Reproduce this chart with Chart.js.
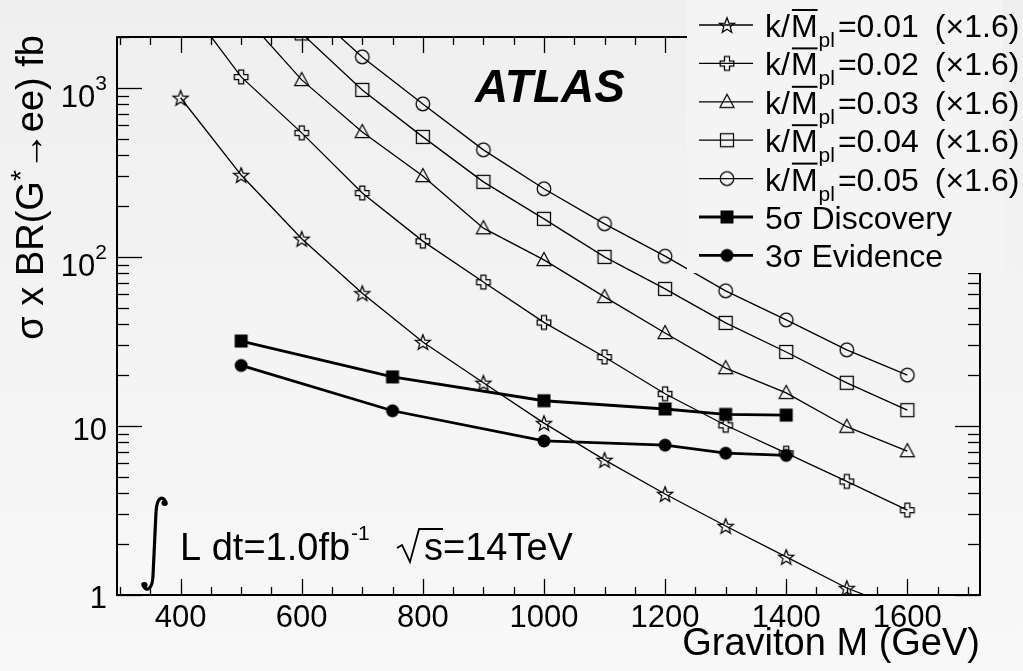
<!DOCTYPE html>
<html><head><meta charset="utf-8">
<script src="https://cdn.jsdelivr.net/npm/chart.js@4.4.1/dist/chart.umd.min.js"></script>
<style>
html,body{margin:0;padding:0;}
body{width:1023px;height:671px;background:linear-gradient(#efefef,#f8f8f8);overflow:hidden;}
#wrap{position:relative;width:1023px;height:671px;}
</style></head><body><div id="wrap"><canvas id="c" width="1023" height="671"></canvas></div>
<script>
// ---- data ----
const masses = [400, 500, 600, 700, 800, 900, 1000, 1100, 1200, 1300, 1400, 1500, 1600];
const k001 = [874, 305, 128, 61, 31.4, 18, 10.4, 6.3, 3.96, 2.56, 1.68, 1.1, 0.8];
const k002 = [3500, 1161, 542, 239, 124, 71, 41, 25.6, 15.5, 10.1, 6.9, 4.7, 3.18];
const k003 = [null, 2800, 1115, 549, 301, 148, 96, 58, 35.5, 22, 15.7, 9.9, 7.1];
const k004 = [null, null, 2100, 973, 513, 278, 168, 100, 64.7, 40.7, 27.4, 18, 12.4];
const k005 = [null, null, 3200, 1525, 804, 430, 253, 157, 101, 63, 42.4, 28.2, 20];
const sigMass = [500, 750, 1000, 1200, 1300, 1400];
const disc5 = [31.8, 19.5, 14.1, 12.6, 11.7, 11.6];
const evid3 = [22.8, 12.3, 8.15, 7.7, 6.9, 6.7];
const couplings = ['0.01', '0.02', '0.03', '0.04', '0.05'];
const scaleNote = '(\u00d71.6)';
const sigLabels = ['5\u03c3 Discovery', '3\u03c3 Evidence'];
const xTickLabels = [400, 600, 800, 1000, 1200, 1400, 1600];
const yTickExp = [0, 1, 2, 3];

const F = '"Liberation Sans", Arial, Helvetica, sans-serif';

// ---- marker canvases ----
function mk(draw) {
  const c = document.createElement('canvas'); c.width = 22; c.height = 22;
  const g = c.getContext('2d'); g.translate(11, 11); g.strokeStyle = '#000'; g.fillStyle = '#000'; g.lineWidth = 1.25;
  draw(g); return c;
}
const M = {
  star: mk(g => { g.beginPath(); for (let i = 0; i < 10; i++) { const r = i % 2 ? 3.4 : 8; const a = -Math.PI / 2 + i * Math.PI / 5; const px = r * Math.cos(a), py = r * Math.sin(a) + 0.8; i ? g.lineTo(px, py) : g.moveTo(px, py); } g.closePath(); g.stroke(); }),
  cross: mk(g => { const a = 2.5, b = 6.8; const p = [[-a,-b],[a,-b],[a,-a],[b,-a],[b,a],[a,a],[a,b],[-a,b],[-a,a],[-b,a],[-b,-a],[-a,-a]]; g.beginPath(); p.forEach((q, i) => i ? g.lineTo(q[0], q[1]) : g.moveTo(q[0], q[1])); g.closePath(); g.stroke(); }),
  tri: mk(g => { g.beginPath(); g.moveTo(0, -7.5); g.lineTo(7, 5.5); g.lineTo(-7, 5.5); g.closePath(); g.stroke(); }),
  sq: mk(g => { g.strokeRect(-6.5, -6.5, 13, 13); }),
  circ: mk(g => { g.beginPath(); g.arc(0, 0, 6.8, 0, Math.PI * 2); g.stroke(); }),
  fsq: mk(g => { g.fillRect(-6.5, -6.5, 13, 13); }),
  fcirc: mk(g => { g.beginPath(); g.arc(0, 0, 6.5, 0, Math.PI * 2); g.fill(); })
};

function pts(xs, ys) { return xs.map((v, i) => ({ x: v, y: ys[i] })).filter(p => p.y != null); }
function ds(label, xs, ys, marker, lw) {
  return { label, data: pts(xs, ys), borderColor: '#000', backgroundColor: '#000', borderWidth: lw,
    pointStyle: marker, pointRadius: 7, pointHoverRadius: 7, tension: 0, fill: false, clip: 1 };
}
const markerList = [M.star, M.cross, M.tri, M.sq, M.circ];
const series = [k001, k002, k003, k004, k005];
const datasets = series.map((s, i) => ds('k/Mpl=' + couplings[i] + ' ' + scaleNote, masses, s, markerList[i], 1.3));
datasets.push(ds(sigLabels[0], sigMass, disc5, M.fsq, 2.8));
datasets.push(ds(sigLabels[1], sigMass, evid3, M.fcirc, 2.8));

function line(ctx, x1, y1, x2, y2) { ctx.beginPath(); ctx.moveTo(x1, y1); ctx.lineTo(x2, y2); ctx.stroke(); }

const deco = {
  id: 'deco',
  afterDatasetsDraw(chart) {
    const { ctx, chartArea: a, scales: { x, y } } = chart;
    ctx.save();
    ctx.strokeStyle = '#000'; ctx.fillStyle = '#000';
    // ticks
    ctx.lineWidth = 1.3;
    for (let v = 300; v <= 1700; v += 50) {
      const px = Math.round(x.getPixelForValue(v)) + 0.5;
      const L = (v % 200 === 0) ? 16 : 8;
      line(ctx, px, a.bottom, px, a.bottom - L); line(ctx, px, a.top, px, a.top + L);
    }
    for (let d = 0; d < 4; d++) for (let m = 1; m <= 9; m++) {
      const v = m * Math.pow(10, d); if (v > 2000) break;
      const py = Math.round(y.getPixelForValue(v)) + 0.5; const L = m === 1 ? 25 : 12;
      line(ctx, a.left, py, a.left + L, py); line(ctx, a.right, py, a.right - L, py);
    }
    // frame
    ctx.lineWidth = 2;
    ctx.strokeRect(a.left, a.top, a.right - a.left, a.bottom - a.top);
    // x tick labels
    ctx.font = '31px ' + F; ctx.textAlign = 'center'; ctx.textBaseline = 'alphabetic';
    xTickLabels.forEach(v => ctx.fillText(String(v), x.getPixelForValue(v), 627));
    // y tick labels
    yTickExp.forEach(e => {
      const py = y.getPixelForValue(Math.pow(10, e));
      ctx.textAlign = 'right';
      if (e === 0) { ctx.font = '31px ' + F; ctx.fillText('1', 107, py + 13); }
      else if (e === 1) { ctx.font = '31px ' + F; ctx.fillText('10', 107, py + 14); }
      else {
        ctx.font = '21px ' + F; ctx.fillText(String(e), 107, py + 2);
        const w = ctx.measureText(String(e)).width;
        ctx.font = '31px ' + F; ctx.fillText('10', 107 - w, py + 19);
      }
    });
    // axis titles
    ctx.font = '38px ' + F; ctx.textAlign = 'right';
    ctx.fillText('Graviton M (GeV)', a.right, 655);
    ctx.save();
    ctx.translate(43, 35); ctx.rotate(-Math.PI / 2);
    const parts = [['\u03c3 x BR(G', 38, 0], ['*', 28, -13], ['\u2192ee) fb', 38, 0]];
    let tot = 0; parts.forEach(p => { ctx.font = p[1] + 'px ' + F; tot += ctx.measureText(p[0]).width; });
    let cx = -tot; ctx.textAlign = 'left';
    parts.forEach(p => { ctx.font = p[1] + 'px ' + F; ctx.fillText(p[0], cx, p[2]); cx += ctx.measureText(p[0]).width; });
    ctx.restore();
    // ATLAS
    ctx.font = 'italic bold 46px ' + F; ctx.textAlign = 'left';
    ctx.fillText('ATLAS', 475, 102);
    // luminosity annotation
    ctx.lineWidth = 3.2; ctx.lineCap = 'round';
    ctx.beginPath(); ctx.moveTo(166, 504); ctx.bezierCurveTo(165, 496, 157, 494, 156, 512);
    ctx.lineTo(153, 576); ctx.bezierCurveTo(152, 593, 144, 591, 143, 584); ctx.stroke();
    ctx.beginPath(); ctx.arc(164.5, 503, 3, 0, Math.PI * 2); ctx.fill();
    ctx.beginPath(); ctx.arc(144.5, 585, 3, 0, Math.PI * 2); ctx.fill();
    ctx.lineCap = 'butt';
    ctx.font = '38px ' + F; ctx.fillText('L dt=1.0fb', 180, 560);
    const wl = ctx.measureText('L dt=1.0fb').width;
    ctx.font = '21px ' + F; ctx.fillText('-1', 180 + wl + 1, 540);
    ctx.lineWidth = 1.8;
    ctx.beginPath(); ctx.moveTo(397, 548); ctx.lineTo(402, 545); ctx.lineTo(410, 562); ctx.lineTo(419, 529); ctx.lineTo(443, 529); ctx.stroke();
    ctx.font = '38px ' + F; ctx.fillText('s=14TeV', 424, 560);

    // legend box
    ctx.fillStyle = '#f4f4f4'; ctx.fillRect(687, 0, 316, 273);
    ctx.fillStyle = '#000'; ctx.strokeStyle = '#000';
    chart.data.datasets.forEach((d, i) => {
      const cy = 25 + i * 38.4;
      ctx.lineWidth = d.borderWidth;
      line(ctx, 699, cy, 753, cy);
      ctx.drawImage(d.pointStyle, 727 - 11, cy - 11);
      const bx = 765, by = cy + 12;
      ctx.textAlign = 'left';
      if (i < couplings.length) {
        ctx.font = '32px ' + F;
        ctx.fillText('k/', bx, by);
        let xx = bx + ctx.measureText('k/').width + 1;
        const wM = ctx.measureText('M').width;
        ctx.fillText('M', xx, by);
        ctx.lineWidth = 2; line(ctx, xx + 1, by - 27, xx + wM, by - 27);
        xx += wM + 1;
        ctx.font = '21px ' + F; ctx.fillText('pl', xx, by + 10);
        xx += ctx.measureText('pl').width + 3;
        ctx.font = '32px ' + F;
        ctx.fillText('=' + couplings[i], xx, by);
        xx += ctx.measureText('=' + couplings[i]).width + 16;
        ctx.fillText(scaleNote, xx, by);
      } else {
        ctx.font = '32px ' + F;
        ctx.fillText(d.label, bx, by);
      }
    });
    ctx.restore();
  }
};

new Chart(document.getElementById('c'), {
  type: 'line',
  data: { datasets },
  options: {
    responsive: false, animation: false, events: [],
    layout: { padding: { left: 117, right: 43, top: 37, bottom: 76 } },
    plugins: { legend: { display: false }, tooltip: { enabled: false }, title: { display: false } },
    scales: {
      x: { type: 'linear', min: 295, max: 1720, display: false },
      y: { type: 'logarithmic', min: 1, max: 2000, display: false }
    }
  },
  plugins: [deco]
});
</script></body></html>
